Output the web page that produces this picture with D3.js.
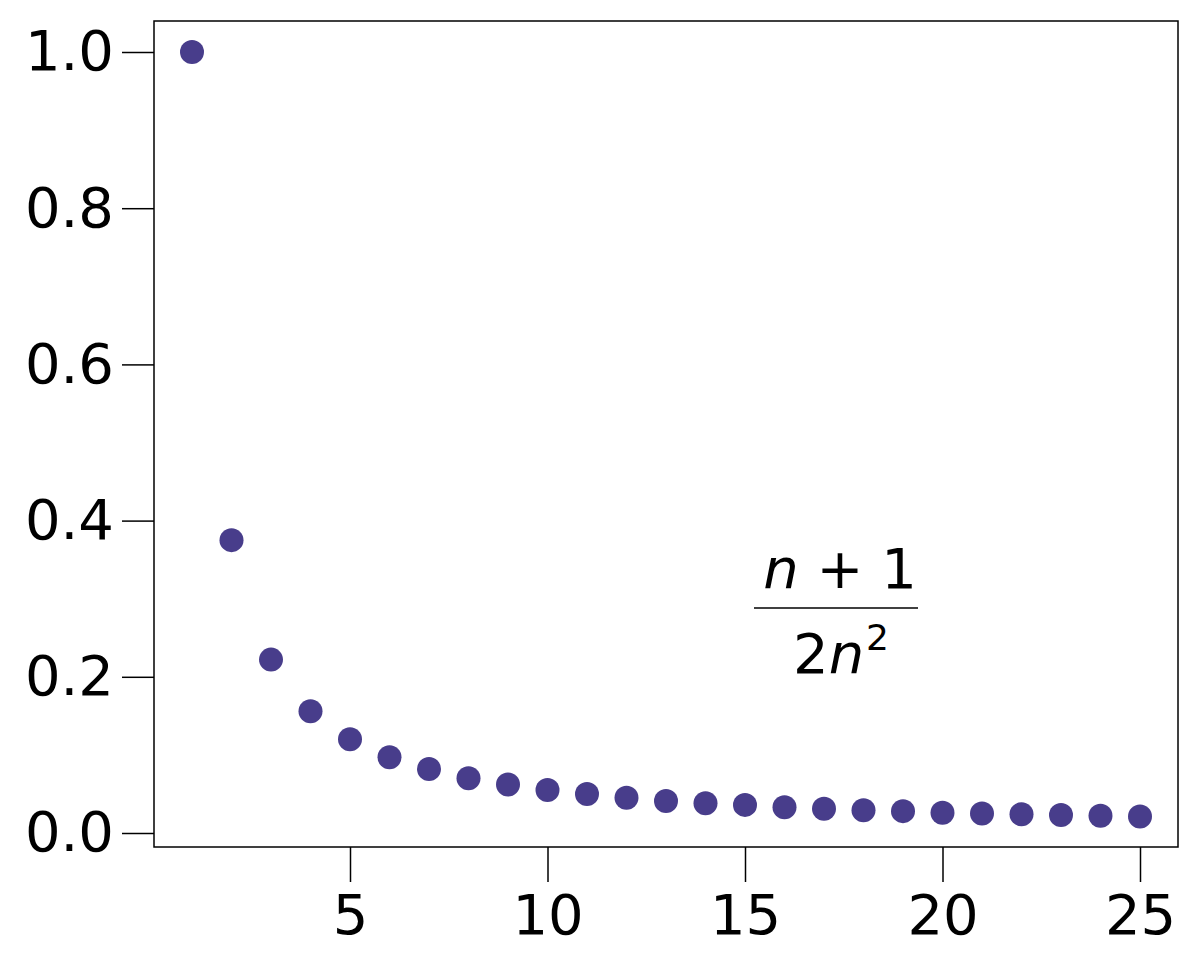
<!DOCTYPE html>
<html>
<head>
<meta charset="utf-8">
<script src="https://cdn.jsdelivr.net/npm/d3@7"></script>
<style>
  body { margin: 0; background: #fff; }
  text { font-family: "DejaVu Sans", sans-serif; }
</style>
</head>
<body>
<div id="chart"></div>
<script>
// Values
const nValues = [1, 2, 3, 4, 5, 6, 7, 8, 9, 10, 11, 12, 13, 14, 15, 16, 17, 18, 19, 20, 21, 22, 23, 24, 25];
const yValues = [1.0, 0.375, 0.222, 0.156, 0.12, 0.097, 0.082, 0.070, 0.062, 0.055, 0.050, 0.045, 0.041,
                 0.038, 0.036, 0.033, 0.031, 0.029, 0.028, 0.026, 0.025, 0.024, 0.023, 0.022, 0.021];
const xTicks = [5, 10, 15, 20, 25];
const yTicks = [0, 0.2, 0.4, 0.6, 0.8, 1.0];

const width = 1200, height = 971;
const box = { left: 154, right: 1178, top: 21, bottom: 847 };

const svg = d3.select("#chart").append("svg")
  .attr("width", width)
  .attr("height", height);

const x = d3.scaleLinear().domain([5, 25]).range([350, 1140]);
const y = d3.scaleLinear().domain([0, 1]).range([833, 52]);

// Frame
svg.append("rect")
  .attr("x", box.left).attr("y", box.top)
  .attr("width", box.right - box.left).attr("height", box.bottom - box.top)
  .attr("fill", "none").attr("stroke", "#000").attr("stroke-width", 1.5);

// Y axis
const yAxisG = svg.append("g")
  .attr("transform", `translate(${box.left},0)`)
  .call(d3.axisLeft(y).tickValues(yTicks).tickSize(32).tickPadding(8).tickFormat(d3.format(".1f")));
yAxisG.select(".domain").remove();
yAxisG.selectAll("line").attr("stroke-width", 1.5);
yAxisG.selectAll("text").style("font-size", "56px").attr("fill", "#000");

// X axis
const xAxisG = svg.append("g")
  .attr("transform", `translate(0,${box.bottom})`)
  .call(d3.axisBottom(x).tickValues(xTicks).tickSize(35).tickPadding(12));
xAxisG.select(".domain").remove();
xAxisG.selectAll("line").attr("stroke-width", 1.5);
xAxisG.selectAll("text").style("font-size", "56px").attr("fill", "#000");

// Points
svg.selectAll(".pt")
  .data(nValues.map((n, i) => ({ n, v: yValues[i] })))
  .enter()
  .append("circle")
  .attr("class", "pt")
  .attr("cx", d => x(d.n))
  .attr("cy", d => y(d.v))
  .attr("r", 12)
  .attr("fill", "#483D8B");

// Formula annotation
const num = svg.append("text")
  .attr("x", 840).attr("y", 588)
  .attr("text-anchor", "middle")
  .style("font-size", "56px");
num.append("tspan").style("font-style", "italic").text("n");
num.append("tspan").text(" + 1");

svg.append("line")
  .attr("x1", 754).attr("x2", 918)
  .attr("y1", 608).attr("y2", 608)
  .attr("stroke", "#000").attr("stroke-width", 1.5);

const den = svg.append("text")
  .attr("x", 793).attr("y", 673)
  .style("font-size", "56px");
den.append("tspan").text("2");
den.append("tspan").style("font-style", "italic").text("n");
svg.append("text")
  .attr("x", 866).attr("y", 650)
  .style("font-size", "36px")
  .text("2");
</script>
</body>
</html>
